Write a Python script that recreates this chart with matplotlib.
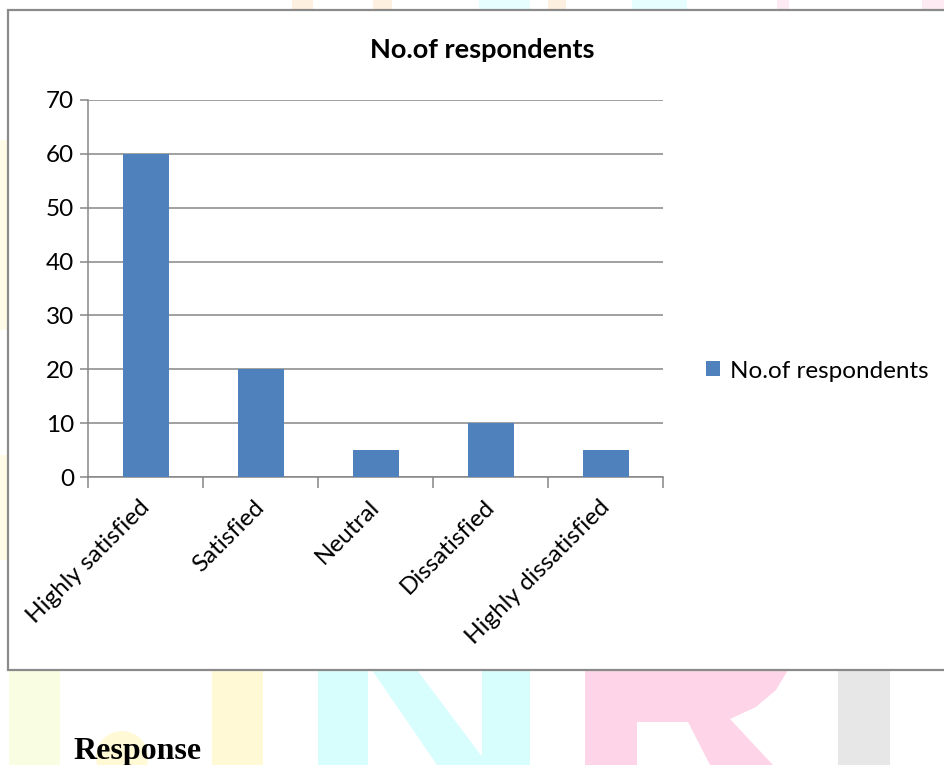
import matplotlib
matplotlib.use("Agg")
import matplotlib.pyplot as plt
from matplotlib.patches import Rectangle, Polygon, Circle
from matplotlib.ticker import FixedLocator, NullFormatter
import matplotlib.transforms as mtransforms

# ---- data ----
categories = ["Highly satisfied", "Satisfied", "Neutral", "Dissatisfied", "Highly dissatisfied"]
respondents = [60, 20, 5, 10, 5]
yticks = [0, 10, 20, 30, 40, 50, 60, 70]
series_name = "No.of respondents"
title = "No.of respondents"
caption = "Response"

W, H = 944, 765
fig = plt.figure(figsize=(W / 100, H / 100), dpi=100)

# ---- page background with faint watermark ----
bg = fig.add_axes([0, 0, 1, 1])
bg.set_xlim(0, W)
bg.set_ylim(H, 0)
bg.axis("off")

yellowgreen = "#f9fde2"
yellow = "#fff9d6"
cyan = "#d7fdfd"
pink = "#fed5e8"
grey = "#e7e7e7"
orange = "#fef0e0"
paleyellow = "#fffbe6"
palecyan = "#e6fefe"
palepink = "#feeaf3"

bg.add_patch(Rectangle((9, 670), 51, 100, fc=yellowgreen, ec="none"))
bg.add_patch(Rectangle((212, 670), 51, 100, fc=yellow, ec="none"))
bg.add_patch(Circle((122, 757), 26, fc=yellow, ec="none"))
# N
bg.add_patch(Rectangle((318, 670), 50, 100, fc=cyan, ec="none"))
bg.add_patch(Rectangle((482, 670), 48, 100, fc=cyan, ec="none"))
bg.add_patch(Polygon([(372, 670), (417, 670), (483, 758), (483, 765), (437, 765)],
                     closed=True, fc=cyan, ec="none"))
# R
bg.add_patch(Rectangle((585, 670), 52, 100, fc=pink, ec="none"))
bg.add_patch(Polygon([(637, 670), (788, 670), (776, 690), (756, 707), (730, 719),
                      (773, 765), (710, 765), (688, 722), (637, 722)],
                     closed=True, fc=pink, ec="none"))
# I
bg.add_patch(Rectangle((838, 670), 52, 100, fc=grey, ec="none"))
# bits at the top strip / left margin
for x0, w, c in [(292, 21, orange), (373, 19, orange), (479, 51, palecyan),
                 (548, 18, orange), (632, 55, palecyan), (777, 12, palepink), (922, 30, palepink)]:
    bg.add_patch(Rectangle((x0, 0), w, 10, fc=c, ec="none"))
bg.add_patch(Rectangle((0, 140), 7, 190, fc=paleyellow, ec="none"))
bg.add_patch(Rectangle((0, 455), 7, 105, fc=paleyellow, ec="none"))

# chart frame
bg.add_patch(Rectangle((8, 10), 960, 660, fc="white", ec="#8a8a8a", lw=1.6))

fig.text(73 / W, 1 - 759 / H, caption, family="Liberation Serif", weight="bold",
         fontsize=23, ha="left", va="baseline", color="black")

# ---- chart ----
font = "Lato"
fs = 17.5
ax = fig.add_axes([88 / W, 1 - 477 / H, 575 / W, 377 / H])
ax.patch.set_alpha(0)
x = list(range(len(categories)))
bars = ax.bar(x, respondents, width=0.4, color="#4f81bd", zorder=3, label=series_name)
ax.set_xlim(-0.5, len(categories) - 0.5)
ax.set_ylim(0, 70)
ax.set_yticks(yticks)
ax.set_yticklabels([str(v) for v in yticks], family=font, fontsize=fs)
ax.yaxis.grid(True, color="#868686", lw=1.1, zorder=0)
ax.set_axisbelow(True)
for s in ["top", "right"]:
    ax.spines[s].set_visible(False)
for s in ["left", "bottom"]:
    ax.spines[s].set_color("#868686")
    ax.spines[s].set_linewidth(1.1)

ax.xaxis.set_major_locator(FixedLocator([i - 0.5 for i in range(len(categories) + 1)]))
ax.xaxis.set_major_formatter(NullFormatter())
ax.xaxis.set_minor_locator(FixedLocator(x))
ax.set_xticklabels(categories, minor=True, family=font, fontsize=fs, rotation=45,
                   ha="right", va="top")
ax.tick_params(axis="x", which="major", length=8, width=1.1, color="#868686", direction="out")
ax.tick_params(axis="x", which="minor", length=0, pad=14)
ax.tick_params(axis="y", length=6, width=1.1, color="#868686", pad=4)
offset = mtransforms.ScaledTranslation(8 / 100, 0, fig.dpi_scale_trans)
for lab in ax.get_xticklabels(minor=True):
    lab.set_transform(lab.get_transform() + offset)

fig.text(482 / W, 1 - 50 / H, title, family=font, weight="bold", fontsize=19.5,
         ha="center", va="center")

fig.legend(handles=[bars], labels=[series_name], loc="center left",
           bbox_to_anchor=(706 / W, 1 - 371 / H), frameon=False,
           prop={"family": font, "size": fs}, handlelength=0.58, handleheight=0.58,
           handletextpad=0.4, borderaxespad=0, borderpad=0)

fig.savefig("out.png", dpi=100)
